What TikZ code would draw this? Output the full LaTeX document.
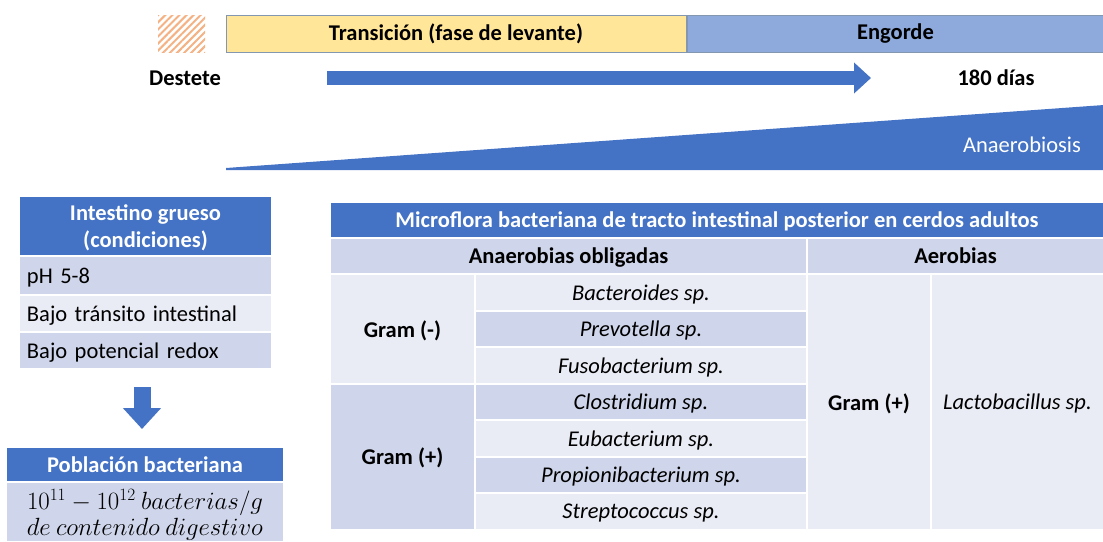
\documentclass[tikz,border=0pt]{standalone}
\usepackage{fontspec}
\setmainfont{Carlito}
\usetikzlibrary{arrows.meta,patterns.meta,positioning}

\definecolor{hdrblue}{HTML}{4472C4}
\definecolor{rowdark}{HTML}{CFD5EA}
\definecolor{rowlight}{HTML}{E9EBF5}
\definecolor{levante}{HTML}{FFE699}
\definecolor{engorde}{HTML}{8EA9DB}
\definecolor{barline}{HTML}{8497B0}
\definecolor{hatchor}{HTML}{F4B183}

\tikzset{
  txt/.style={font=\fontsize{22.5}{27}\selectfont},
  btxt/.style={font=\bfseries\fontsize{22.5}{27}\selectfont},
  cell/.style={draw=white, line width=2pt, inner sep=0pt, outer sep=0pt, text depth=0pt, align=center, txt},
  hdr/.style={cell, fill=hdrblue, text=white, btxt},
  dark/.style={cell, fill=rowdark},
  light/.style={cell, fill=rowlight},
  leftrow/.style={inner xsep=8pt, text width=237pt, align=left},
  phase/.style={draw=barline, line width=1pt, inner sep=0pt, btxt},
  bigarrow/.style={draw=hdrblue},
}

\begin{document}
\begin{tikzpicture}[x=1pt,y=-1pt]
\useasboundingbox (0,0) rectangle (1103,541);

% timeline
\node[minimum width=47pt, minimum height=37pt, inner sep=0pt,
  pattern={Lines[angle=45,distance=5pt,line width=2pt]}, pattern color=hatchor] (hatch) at (181.5,33.5) {};
\node[phase, fill=levante, minimum width=460pt, minimum height=37pt] (levante) at (456,33.5) {Transición (fase de levante)};
\node[phase, fill=engorde, minimum width=417pt, minimum height=37pt] (engorde) at (895.5,33.5) {Engorde};
\node[btxt] (destete) at (185,78) {Destete};
\node[btxt] (dias) at (996,78) {180 días};
\coordinate (tl0) at (327,78);
\coordinate (tl1) at (871,78);
\draw[bigarrow, line width=14pt, -{Triangle[length=17pt,width=30pt]}] (tl0) -- (tl1);

% anaerobiosis wedge
\fill[hdrblue] (226,168) -- (1104,105) -- (1104,170) -- (226,170) -- cycle;
\node[txt, text=white] (anaer) at (1022,145) {Anaerobiosis};

% intestino grueso
\node[hdr, minimum width=253pt, minimum height=60pt] (cond) at (145.5,226) {Intestino grueso\\(condiciones)};
\node[dark, leftrow, minimum height=39pt] (ph) at (145.5,275.5) {pH 5-8};
\node[light, leftrow, minimum height=37pt] (transito) at (145.5,313.5) {Bajo tránsito intestinal};
\node[dark, leftrow, minimum height=37pt] (redox) at (145.5,350.5) {Bajo potencial redox};
\coordinate (dn0) at (142,387);
\coordinate (dn1) at (142,429);
\draw[bigarrow, line width=17pt, -{Triangle[length=21pt,width=37pt]}] (dn0) -- (dn1);
\node[hdr, minimum width=278pt, minimum height=35pt] (pob) at (145,464.5) {Población bacteriana};
\node[dark, font=\fontsize{23.5}{26}\selectfont, minimum width=278pt, minimum height=60pt] (conc) at (145,512)
  {$10^{11}-10^{12}\ bacterias/g$\\$de\ contenido\ digestivo$};

% tabla microflora
\node[hdr, minimum width=774pt, minimum height=36pt] (titulo) at (717,220)
  {Microflora bacteriana de tracto intestinal posterior en cerdos adultos};
\node[dark, btxt, minimum width=477pt, minimum height=36pt] (anaerob) at (568.5,256) {Anaerobias obligadas};
\node[dark, btxt, minimum width=297pt, minimum height=36pt] (aerob) at (955.5,256) {Aerobias};
\node[light, btxt, minimum width=145pt, minimum height=109.5pt] (gramneg) at (402.5,328.75) {Gram (-)};
\node[dark, btxt, minimum width=145pt, minimum height=146pt] (grampos) at (402.5,456.5) {Gram (+)};
\node[light, minimum width=332pt, minimum height=36.5pt] (bacter) at (641,292.25) {\itshape Bacteroides sp.};
\node[dark, minimum width=332pt, minimum height=36.5pt] (prevo) at (641,328.75) {\itshape Prevotella sp.};
\node[light, minimum width=332pt, minimum height=36.5pt] (fuso) at (641,365.25) {\itshape Fusobacterium sp.};
\node[dark, minimum width=332pt, minimum height=36.5pt] (clostr) at (641,401.75) {\itshape Clostridium sp.};
\node[light, minimum width=332pt, minimum height=36.5pt] (eubact) at (641,438.25) {\itshape Eubacterium sp.};
\node[dark, minimum width=332pt, minimum height=36.5pt] (propio) at (641,474.75) {\itshape Propionibacterium sp.};
\node[light, minimum width=332pt, minimum height=36.5pt] (strepto) at (641,511.25) {\itshape Streptococcus sp.};
\node[light, btxt, minimum width=124pt, minimum height=255.5pt] (aergram) at (869,401.75) {Gram (+)};
\node[light, minimum width=173pt, minimum height=255.5pt] (lacto) at (1017.5,401.75) {\itshape Lactobacillus sp.};
\end{tikzpicture}
\end{document}
